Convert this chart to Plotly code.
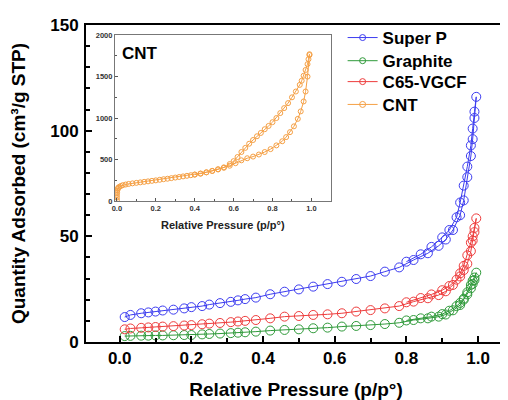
import plotly.graph_objects as go

# Data
p_main = [0.014, 0.03, 0.06, 0.08, 0.1, 0.12, 0.15, 0.18, 0.2, 0.23, 0.25, 0.28, 0.31, 0.33, 0.35,
          0.38, 0.42, 0.46, 0.5, 0.54, 0.58, 0.62, 0.66, 0.7, 0.74, 0.78, 0.82, 0.86, 0.89, 0.91,
          0.93, 0.95, 0.96, 0.97, 0.98, 0.985, 0.99, 0.995]
p_des = [0.99, 0.985, 0.98, 0.97, 0.96, 0.95, 0.94, 0.92, 0.9, 0.87, 0.84, 0.8]

superp_ads = [11.8, 12.8, 13.6, 14.0, 14.4, 14.9, 15.3, 15.9, 16.5, 17.0, 17.7, 18.4, 19.0, 19.7, 20.3,
              21.0, 22.6, 23.8, 24.9, 26.2, 27.4, 28.5, 29.8, 31.2, 33.3, 35.3, 38.8, 42.0, 45.5, 48.5,
              53.0, 60.0, 67.0, 78.0, 88.0, 96.0, 106.0, 116.0]
superp_des = [109, 101, 93, 83, 74, 66, 59, 53, 49.5, 45, 41.5, 38.0]

graphite_ads = [2.8, 2.9, 3.0, 3.0, 3.1, 3.1, 3.2, 3.3, 3.3, 3.6, 3.8, 4.0, 4.2, 4.4, 4.6,
                4.9, 5.4, 5.7, 6.0, 6.5, 6.8, 7.3, 7.6, 8.0, 8.5, 9.1, 10.4, 11.2, 12.0, 13.0,
                15.0, 17.5, 20.0, 22.5, 25.4, 27.5, 29.3, 32.8]
graphite_des = [30.5, 29, 27, 23.5, 20.5, 18.5, 17, 14.8, 13.2, 12.0, 11.2, 10.2]

c65_ads = [6.0, 6.4, 6.7, 6.9, 7.1, 7.3, 7.5, 7.8, 8.0, 8.4, 8.7, 9.0, 9.4, 9.7, 10.0,
           10.4, 11.2, 12.0, 12.3, 12.8, 13.1, 13.6, 14.4, 15.1, 15.9, 17.0, 19.1, 20.7, 22.2, 24.0,
           27.0, 31.0, 34.0, 37.0, 43.0, 48.0, 52.0, 58.5]
c65_des = [54, 50, 47, 41, 36, 32.5, 29.5, 26.5, 24.5, 22.5, 20.8, 18.8]

cnt_p_ads = [0.0, 0.0, 0.0, 0.001, 0.002, 0.004, 0.007, 0.012, 0.02, 0.03, 0.045, 0.06, 0.08, 0.1,
             0.12, 0.14, 0.16, 0.18, 0.2, 0.22, 0.24, 0.26, 0.28, 0.3, 0.32, 0.34, 0.36, 0.38, 0.4,
             0.43, 0.46, 0.49, 0.52, 0.55, 0.58, 0.61, 0.64, 0.67, 0.7, 0.73, 0.76, 0.79, 0.82,
             0.85, 0.87, 0.89, 0.91, 0.93, 0.945, 0.96, 0.97, 0.98, 0.99]
cnt_v_ads = [10, 40, 70, 100, 125, 145, 160, 170, 180, 190, 198, 205, 212, 218,
             224, 230, 236, 242, 248, 255, 262, 268, 275, 282, 289, 296, 303, 310, 318,
             330, 345, 362, 380, 400, 425, 455, 490, 515, 535, 560, 590, 625, 670,
             720, 770, 830, 900, 990, 1080, 1200, 1320, 1500, 1760]
cnt_p_des = [0.99, 0.985, 0.98, 0.97, 0.96, 0.95, 0.94, 0.92, 0.9, 0.88, 0.86, 0.84, 0.82, 0.8,
             0.78, 0.76, 0.74, 0.72, 0.7, 0.68, 0.66, 0.64, 0.62, 0.6, 0.58, 0.55, 0.52, 0.49,
             0.46, 0.43, 0.4]
cnt_v_des = [1770, 1710, 1650, 1580, 1510, 1450, 1400, 1320, 1250, 1180, 1120, 1060, 1000, 950,
             905, 865, 820, 780, 735, 690, 640, 590, 530, 480, 445, 405, 382, 362,
             345, 330, 318]

blue = "#3c3cf0"
green = "#2f9a3a"
red = "#ee3c3c"
orange = "#f5a045"
FONT = "Arial, Liberation Sans, sans-serif"

fig = go.Figure()

series = [
    ("Super P", superp_ads, superp_des, blue),
    ("Graphite", graphite_ads, graphite_des, green),
    ("C65-VGCF", c65_ads, c65_des, red),
]
for name, ads, des, col in series:
    fig.add_trace(go.Scatter(
        x=p_main + p_des, y=ads + des, name=name, mode="lines+markers", showlegend=False,
        line=dict(color=col, width=1),
        marker=dict(symbol="circle-open", size=9, color=col, line=dict(width=1)),
    ))

fig.add_trace(go.Scatter(
    x=cnt_p_ads + cnt_p_des, y=cnt_v_ads + cnt_v_des, name="CNT", mode="lines+markers",
    xaxis="x2", yaxis="y2", showlegend=False,
    line=dict(color=orange, width=1),
    marker=dict(symbol="circle-open", size=5, color=orange, line=dict(width=1)),
))

# legend entries (small symbols, one legend each so the spacing can be matched)
legend_names = ["Super P", "Graphite", "C65-VGCF", "CNT"]
legend_cols = [blue, green, red, orange]
legend_y = [0.959, 0.886, 0.820, 0.748]
legend_ids = ["legend", "legend2", "legend3", "legend4"]
for name, col, lid in zip(legend_names, legend_cols, legend_ids):
    fig.add_trace(go.Scatter(
        x=[None], y=[None], name=name, mode="lines+markers", legend=lid,
        line=dict(color=col, width=1),
        marker=dict(symbol="circle-open", size=6, color=col, line=dict(width=1)),
    ))

legend_layout = {}
for lid, ly in zip(legend_ids, legend_y):
    legend_layout[lid] = dict(x=0.611, y=ly, xanchor="left", yanchor="middle",
                              bgcolor="rgba(0,0,0,0)", font=dict(size=17, weight="bold"),
                              itemwidth=30)

# page body adds an 8px offset, so the figure is 500x392
fig.update_layout(
    width=500, height=392,
    margin=dict(l=78, r=0, t=17, b=58),
    paper_bgcolor="white", plot_bgcolor="white",
    font=dict(family=FONT, size=17, color="black", weight="bold"),
    showlegend=True,
    **legend_layout,
    xaxis=dict(
        range=[-0.094, 1.078], tickvals=[0, 0.2, 0.4, 0.6, 0.8, 1.0],
        ticktext=["0.0", "0.2", "0.4", "0.6", "0.8", "1.0"],
        ticks="inside", ticklen=6, tickwidth=2, tickcolor="black",
        minor=dict(ticks="inside", ticklen=4, tickwidth=1.5, dtick=0.1, tick0=0, tickcolor="black"),
        showline=True, linewidth=2, linecolor="black", mirror=True,
        showgrid=False, zeroline=False,
        title=dict(text="Relative Pressure (p/p°)", font=dict(size=19, weight="bold"), standoff=15),
        domain=[0, 1], anchor="y",
    ),
    yaxis=dict(
        range=[0, 150], tickvals=[0, 50, 100, 150],
        ticks="inside", ticklen=6, tickwidth=2, tickcolor="black",
        minor=dict(ticks="inside", ticklen=4, tickwidth=1.5, dtick=10, tick0=0, tickcolor="black"),
        showline=True, linewidth=2, linecolor="black", mirror=True,
        showgrid=False, zeroline=False, ticklabelstandoff=2,
        title=dict(text="Quantity Adsorbed (cm³/g STP)", font=dict(size=19, weight="bold"), standoff=20),
        domain=[0, 1], anchor="x",
    ),
    xaxis2=dict(
        domain=[0.069, 0.583], anchor="y2", range=[-0.01, 1.10],
        tickvals=[0, 0.2, 0.4, 0.6, 0.8, 1.0],
        ticktext=["0.0", "0.2", "0.4", "0.6", "0.8", "1.0"],
        ticks="inside", ticklen=3, tickcolor="#555",
        minor=dict(ticks="inside", ticklen=2, dtick=0.1, tick0=0, tickcolor="#555"),
        tickfont=dict(size=7.5, color="#333", weight="bold"),
        showline=True, linewidth=1, linecolor="#777", mirror=True,
        showgrid=False, zeroline=False,
    ),
    yaxis2=dict(
        domain=[0.445, 0.968], anchor="x2", range=[0, 2000],
        tickvals=[0, 500, 1000, 1500, 2000],
        ticks="inside", ticklen=3, tickcolor="#555",
        minor=dict(ticks="inside", ticklen=2, dtick=250, tick0=0, tickcolor="#555"),
        tickfont=dict(size=7.5, color="#333", weight="bold"),
        showline=True, linewidth=1, linecolor="#777", mirror=True,
        showgrid=False, zeroline=False,
    ),
    annotations=[
        dict(text="CNT", xref="x2 domain", yref="y2 domain", x=0.025, y=0.96,
             xanchor="left", yanchor="top", showarrow=False,
             font=dict(size=17, weight="bold", color="black")),
        dict(text="Relative Pressure (p/p°)", xref="x2 domain", yref="y2 domain", x=0.5, y=-0.145,
             xanchor="center", yanchor="middle", showarrow=False,
             font=dict(size=11, weight="bold", color="#222")),
    ],
)

fig.write_html("out.html")
